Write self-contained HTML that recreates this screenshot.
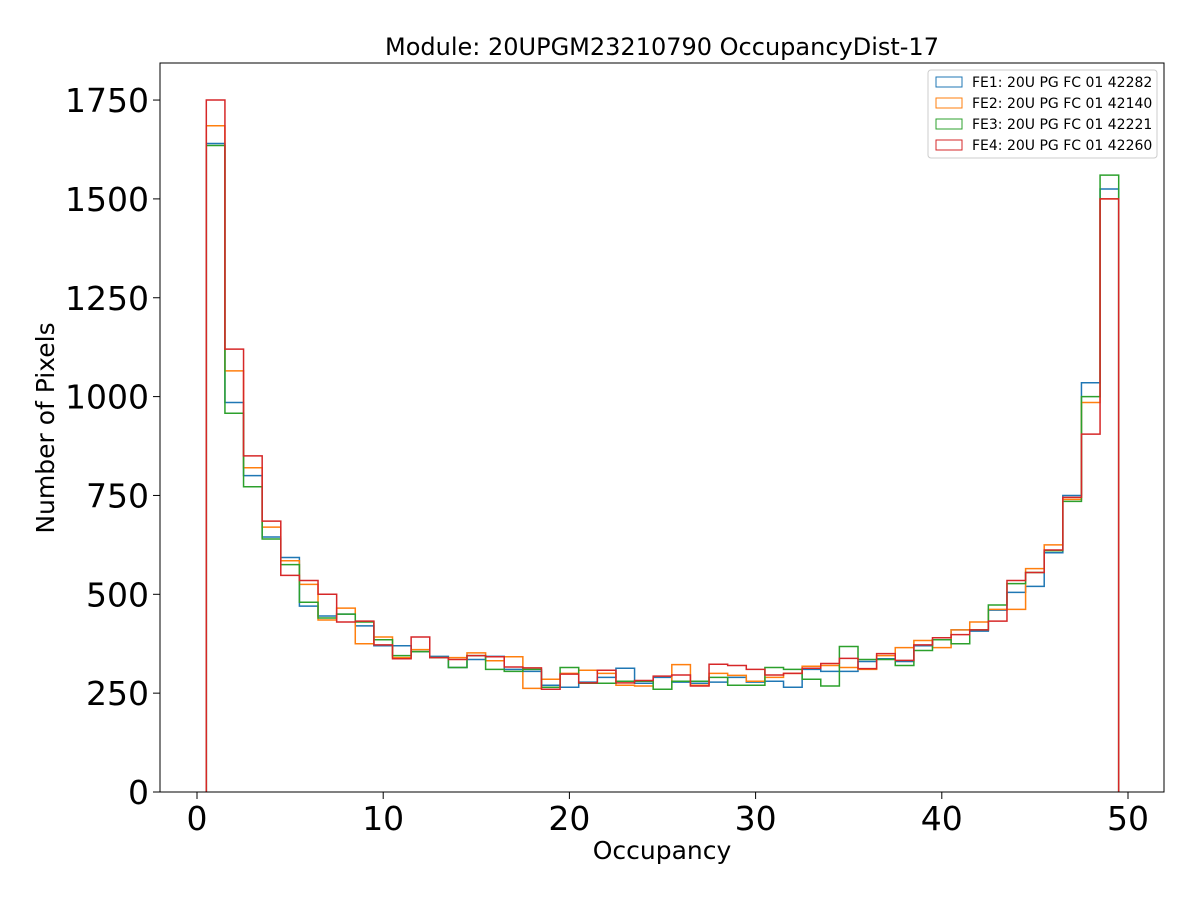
<!DOCTYPE html>
<html><head><meta charset="utf-8"><style>
body{margin:0;background:#fff}
svg{font-family:"DejaVu Sans","Liberation Sans",sans-serif}
</style></head><body>
<svg id="s" width="1200" height="900" xmlns="http://www.w3.org/2000/svg">
<rect width="1200" height="900" fill="#fff"/>
<g id="series"></g>
<rect x="160" y="63" width="1004" height="729" fill="none" stroke="#000" stroke-width="1"/>
<g id="ticks" font-size="33" fill="#000"></g>
<text x="662" y="55" font-size="24" text-anchor="middle">Module: 20UPGM23210790 OccupancyDist-17</text>
<text x="662" y="859" font-size="25" text-anchor="middle">Occupancy</text>
<text transform="translate(54,428) rotate(-90)" font-size="25" text-anchor="middle">Number of Pixels</text>
<g font-size="14">
<rect x="928" y="70" width="229" height="88" fill="#fff" stroke="#ccc" rx="3"/>
<rect x="936" y="77" width="26" height="10" fill="none" stroke="#1f77b4"/><text x="972" y="87">FE1: 20U PG FC 01 42282</text>
<rect x="936" y="98" width="26" height="10" fill="none" stroke="#ff7f0e"/><text x="972" y="108">FE2: 20U PG FC 01 42140</text>
<rect x="936" y="119" width="26" height="10" fill="none" stroke="#2ca02c"/><text x="972" y="129">FE3: 20U PG FC 01 42221</text>
<rect x="936" y="140" width="26" height="10" fill="none" stroke="#d62728"/><text x="972" y="150">FE4: 20U PG FC 01 42260</text>
</g>
</svg>
<script>
var X=function(v){return 197+v*18.62},Y=function(v){return 792-v*0.3954};
var d={
"#1f77b4":[1640,985,800,645,593,470,445,450,420,370,370,355,343,315,335,343,310,305,270,265,278,290,313,275,290,278,275,278,290,278,280,265,310,305,305,330,337,330,370,385,410,407,460,505,520,605,750,1035,1525],
"#ff7f0e":[1685,1065,820,670,585,525,435,465,375,392,340,360,340,340,352,332,342,262,285,300,308,300,270,268,260,322,270,300,295,280,290,300,318,320,315,310,345,365,383,365,410,430,462,462,565,625,740,985,1500],
"#2ca02c":[1635,958,772,640,575,480,440,450,430,385,345,355,340,315,345,310,305,310,265,315,275,275,280,280,260,280,280,290,270,270,315,310,285,268,368,335,335,320,358,385,375,410,473,527,555,610,735,1000,1560],
"#d62728":[1750,1120,850,685,548,535,500,430,432,372,337,392,340,335,345,342,316,314,260,298,276,308,276,282,293,296,268,323,320,310,296,300,313,325,338,312,350,333,372,390,398,410,432,535,555,612,745,905,1500]};
var g=document.getElementById("series"),h="";
for(var c in d){var v=d[c],p="M"+X(0.5)+","+Y(0);
for(var i=0;i<v.length;i++){p+=" L"+X(i+0.5)+","+Y(v[i])+" L"+X(i+1.5)+","+Y(v[i]);}
p+=" L"+X(49.5)+","+Y(0);
h+='<path d="'+p+'" fill="none" stroke="'+c+'" stroke-width="1.5"/>';}
g.innerHTML=h;
var t="";
for(var k=0;k<=50;k+=10){var x=X(k);t+='<line x1="'+x+'" y1="792" x2="'+x+'" y2="799" stroke="#000"/><text x="'+x+'" y="830" text-anchor="middle">'+k+'</text>';}
for(var k=0;k<=1750;k+=250){var y=Y(k);t+='<line x1="153" y1="'+y+'" x2="160" y2="'+y+'" stroke="#000"/><text x="149" y="'+(y+12)+'" text-anchor="end">'+k+'</text>';}
document.getElementById("ticks").innerHTML=t;
</script>
</body></html>
